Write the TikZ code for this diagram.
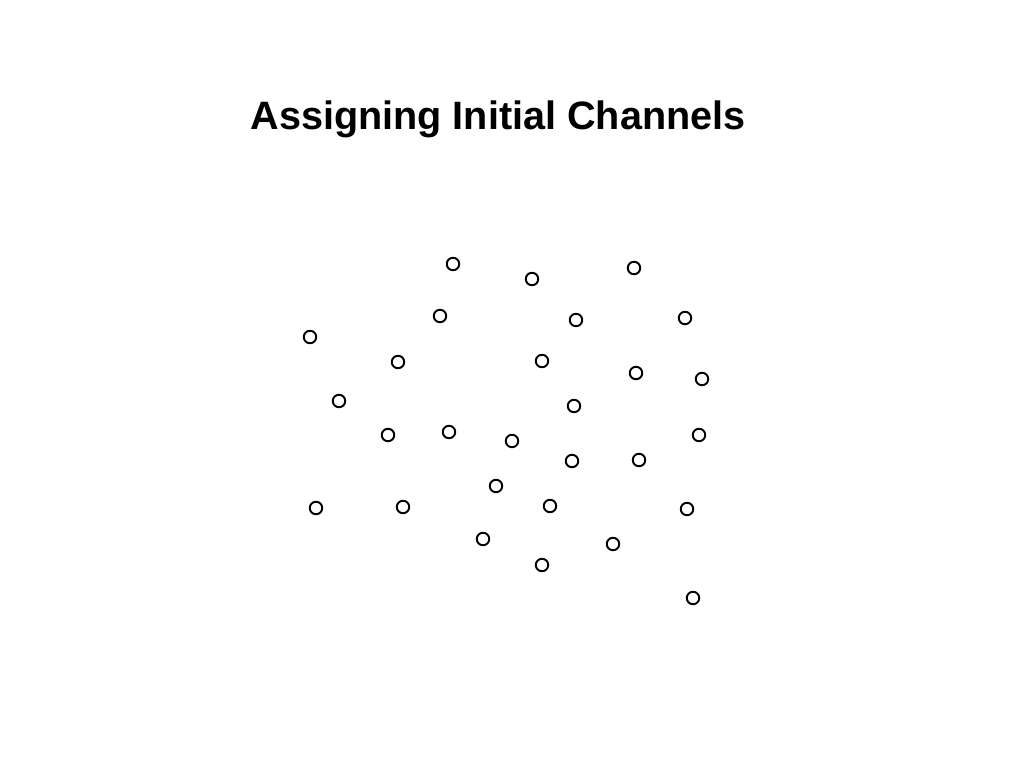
\documentclass[tikz,border=0pt]{standalone}
\usepackage{fontspec}
\setmainfont{Liberation Sans}

\begin{document}
\begin{tikzpicture}[x=1pt,y=-1pt,site/.style={circle,draw=black,line width=1.9pt,minimum size=12.5pt,inner sep=0pt},ttl/.style={font=\fontsize{39.6}{44}\selectfont\bfseries,anchor=base}]
\useasboundingbox (0,0) rectangle (1024,768);
\node[ttl] (title) at (498,129) {Assigning Initial Channels};
% radio sites, still without a channel
\foreach \x/\y [count=\i] in {453/264,532/279,634/268,440/316,576/320,685/318,310/337,398/362,542/361,636/373,702/379,339/401,574/406,388/435,449/432,512/441,699/435,572/461,639/460,496/486,316/508,403/507,550/506,687/509,483/539,613/544,542/565,693/598}
  \node[site] (s\i) at (\x,\y) {};
\end{tikzpicture}
\end{document}
